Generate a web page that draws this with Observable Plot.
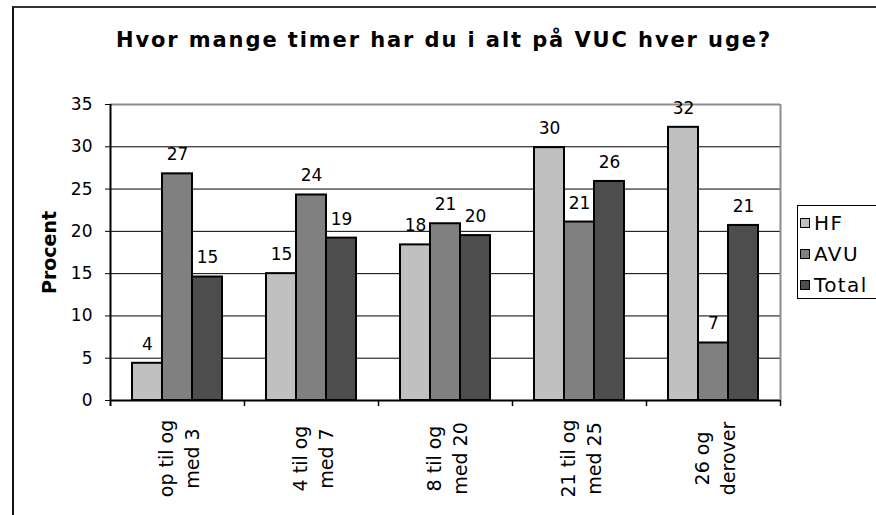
<!DOCTYPE html>
<html>
<head>
<meta charset="utf-8">
<script src="https://cdn.jsdelivr.net/npm/d3@7"></script>
<script src="https://cdn.jsdelivr.net/npm/@observablehq/plot@0.6"></script>
<style>
  html, body { margin: 0; padding: 0; background: #fff; overflow: hidden; }
  #wrap { position: relative; width: 876px; height: 515px; overflow: hidden; font-family: "DejaVu Sans", sans-serif; }
  #frame { position: absolute; left: 12px; top: 6px; width: 900px; height: 600px; border-left: 2px solid #111; border-top: 2px solid #333; box-sizing: border-box; }
  #title { position: absolute; left: 12px; width: 864px; top: 29px; text-align: center; font-weight: bold; font-size: 21px; line-height: 22px; letter-spacing: 1.9px; color: #000; }
  #chart { position: absolute; left: 0; top: 0; }
  #legend { position: absolute; left: 797px; top: 205px; width: 100px; height: 94px; border: 1px solid #000; box-sizing: border-box; background: #fff; }
  .item { position: absolute; left: 2px; height: 20px; font-size: 20px; line-height: 20px; color: #000; letter-spacing: 1.4px; }
  .sw { position: absolute; left: 0; top: 5px; width: 10px; height: 10px; border: 1.5px solid #000; box-sizing: border-box; }
  .lab { position: absolute; left: 14px; top: 0; white-space: nowrap; }
  svg [aria-label="y-axis label"] text, svg [aria-label="y-axis label"] { font-weight: bold; font-size: 19px; }
  svg g[aria-label="category labels"] text { letter-spacing: 1px; }
  svg g[aria-label="grid"] line { shape-rendering: crispEdges; }
</style>
</head>
<body>
<div id="wrap">
  <div id="frame"></div>
  <div id="chart"></div>
  <div id="title">Hvor mange timer har du i alt på VUC hver uge?</div>
  <div id="legend"></div>
</div>
<script>
// ---- data ----
const categories = ["op til og\nmed 3", "4 til og\nmed 7", "8 til og\nmed 20", "21 til og\nmed 25", "26 og\nderover"];
const series = ["HF", "AVU", "Total"];
const hfValues = [4.4, 15.0, 18.4, 29.9, 32.3];
const avuValues = [26.8, 24.3, 20.9, 21.1, 6.8];
const totalValues = [14.6, 19.2, 19.5, 25.9, 20.7];
const yTicks = [0, 5, 10, 15, 20, 25, 30, 35];
const seriesColors = ["#C0C0C0", "#808080", "#4D4D4D"];

const valuesBySeries = [hfValues, avuValues, totalValues];
const rows = [];
categories.forEach((c, i) => series.forEach((s, j) => rows.push({cat: c, series: s, value: valuesBySeries[j][i]})));

// layout
const W = 876, H = 515, mL = 110, mR = 96, mT = 104, mB = 115;
const bw = (W - mL - mR) / categories.length;

const chart = Plot.plot({
  width: W, height: H,
  marginLeft: mL, marginRight: mR, marginTop: mT, marginBottom: mB,
  style: {fontFamily: "DejaVu Sans, sans-serif", fontSize: "17px", background: "transparent", color: "#000", overflow: "visible"},
  fx: {domain: categories, padding: 0, axis: null},
  x: {domain: series, paddingInner: 0, paddingOuter: 0.73, axis: null},
  y: {domain: [0, 35], ticks: yTicks, tickSize: 5, tickPadding: 13, label: "Procent", labelAnchor: "center", labelOffset: 68, labelArrow: "none"},
  color: {domain: series, range: seriesColors},
  marks: [
    Plot.ruleY(yTicks.filter(t => t > 0 && t < 35), {stroke: "#000", strokeWidth: 1, ariaLabel: "grid"}),
    Plot.ruleY([35], {stroke: "#8c8c8c", strokeWidth: 2}),
    Plot.barY(rows, {fx: "cat", x: "series", y: "value", fill: "series", stroke: "#000", strokeWidth: 2}),
    Plot.text(rows, {fx: "cat", x: "series", y: "value", text: d => String(Math.round(d.value)), dy: -19, fontSize: 17, fill: "#000"}),
    Plot.ruleY([0], {stroke: "#000", strokeWidth: 2}),
    // left axis line (first facet) and boundary ticks
    Plot.ruleX([categories[0]], {fx: d => d, x: null, y1: 35, y2: -0.72, dx: -bw / 2, stroke: "#000", strokeWidth: 2}),
    Plot.ruleX(categories.slice(1), {fx: d => d, x: null, y1: 0, y2: -0.72, dx: -bw / 2, stroke: "#000", strokeWidth: 1.5}),
    Plot.ruleX([categories[categories.length - 1]], {fx: d => d, x: null, y1: 35, y2: 0, dx: bw / 2, stroke: "#8c8c8c", strokeWidth: 2}),
    Plot.ruleX([categories[categories.length - 1]], {fx: d => d, x: null, y1: 0, y2: -0.72, dx: bw / 2, stroke: "#000", strokeWidth: 1.5}),
    // category labels
    Plot.text(categories, {fx: d => d, text: d => d, frameAnchor: "bottom", dy: 58, rotate: -90, textAnchor: "middle", lineAnchor: "middle", lineHeight: 1.38, fontSize: 19, fill: "#000", ariaLabel: "category labels"})
  ]
});
document.getElementById("chart").appendChild(chart);

// legend
const legend = document.getElementById("legend");
series.forEach((s, i) => {
  const item = document.createElement("div");
  item.className = "item";
  item.style.top = (7 + i * 31) + "px";
  const sw = document.createElement("div");
  sw.className = "sw";
  sw.style.background = seriesColors[i];
  const lab = document.createElement("div");
  lab.className = "lab";
  lab.textContent = s;
  item.appendChild(sw); item.appendChild(lab);
  legend.appendChild(item);
});
</script>
</body>
</html>
